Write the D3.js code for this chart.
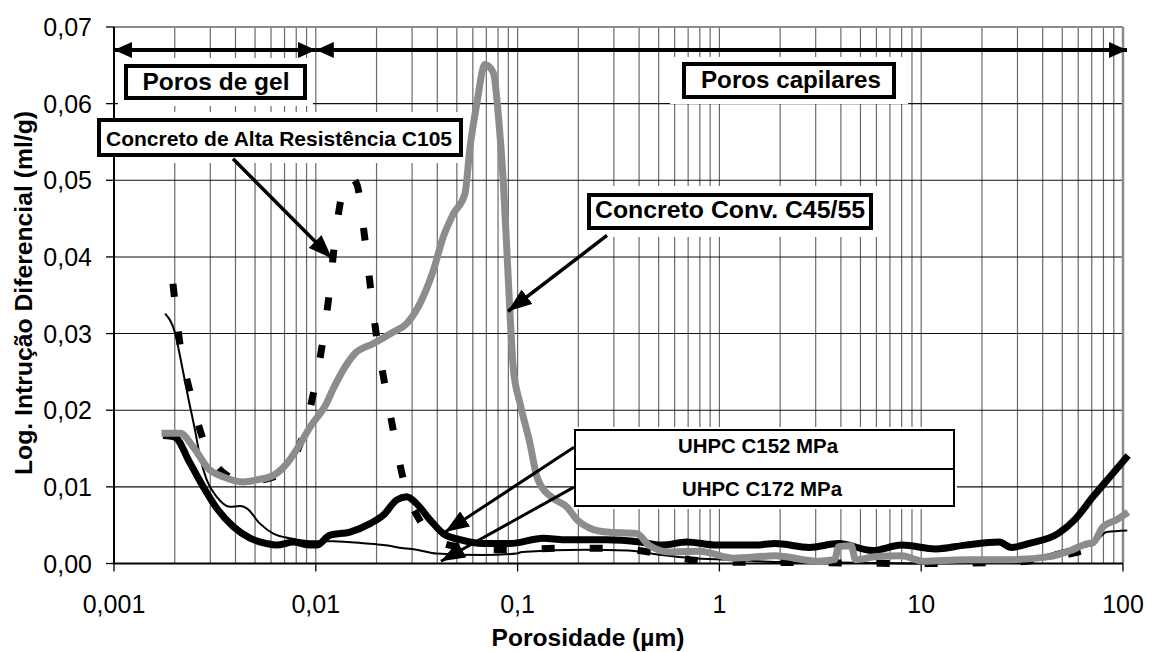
<!DOCTYPE html>
<html><head><meta charset="utf-8">
<script src="https://cdn.jsdelivr.net/npm/d3@7"></script>
<style>body{margin:0;background:#fff}svg{display:block}</style>
</head><body>
<svg id="chart" width="1149" height="652"></svg>
<script>
// ---------- DATA ----------
const xTickValues = [0.001, 0.01, 0.1, 1, 10, 100];
const xTickLabels = ["0,001", "0,01", "0,1", "1", "10", "100"];
const yTickValues = [0, 0.01, 0.02, 0.03, 0.04, 0.05, 0.06, 0.07];
const yTickLabels = ["0,00", "0,01", "0,02", "0,03", "0,04", "0,05", "0,06", "0,07"];

// Concreto Conv. C45/55 (grey)
const serieC4555 = [
  [0.00172,0.0170],[0.00213,0.0170],[0.00247,0.0152],[0.00293,0.0124],[0.00348,0.0113],
  [0.00437,0.01065],[0.0051,0.0109],[0.00616,0.0115],[0.00717,0.0130],[0.00819,0.0152],
  [0.00936,0.0178],[0.0113,0.0209],[0.0122,0.0228],[0.01564,0.0274],[0.0193,0.0287],
  [0.0242,0.0302],[0.0282,0.0313],[0.0328,0.0339],[0.0382,0.0382],[0.0428,0.0426],
  [0.048,0.0456],[0.0548,0.0482],[0.0581,0.0543],[0.0627,0.0599],[0.0689,0.0651],
  [0.0759,0.0640],[0.0802,0.0586],[0.0849,0.0499],[0.0883,0.0413],[0.0917,0.0326],
  [0.0952,0.0255],[0.1028,0.0209],[0.1151,0.0157],[0.1244,0.0114],[0.129,0.0104],
  [0.1503,0.0085],[0.175,0.0074],[0.197,0.0057],[0.2286,0.0046],[0.2763,0.0041],
  [0.39,0.0039],[0.447,0.0024],[0.569,0.0015],[0.796,0.0016],[1.17,0.0007],
  [1.89,0.0010],[3.07,0.0003],[3.72,0.0005],[3.9,0.0022],[4.5,0.0023],[4.73,0.0005],
  [6.0,0.0009],[8.0,0.0010],[10.2,0.0003],[16.5,0.0005],[26.7,0.0005],[43.3,0.0009],
  [55,0.0017],[66.8,0.0026],[71,0.0027],[79.6,0.0048],[93,0.0057],[106,0.0067]
];
// Concreto de Alta Resistência C105 (dashed)
const serieC105 = [
  [0.00196,0.0365],[0.00212,0.0287],[0.00238,0.0224],[0.00277,0.0161],[0.0035,0.0118],
  [0.0045,0.0107],[0.0065,0.0115],[0.0087,0.0170],[0.0099,0.0232],[0.0109,0.0295],
  [0.01175,0.0360],[0.01245,0.0423],[0.01359,0.0486],[0.0147,0.0505],[0.01596,0.0495],
  [0.01742,0.0428],[0.01857,0.0365],[0.01986,0.0302],[0.0218,0.0239],[0.0242,0.0174],
  [0.0272,0.0109],[0.0335,0.0052],[0.04,0.0030],[0.05,0.0022],[0.07,0.0018],
  [0.0952,0.0018],[0.1655,0.0020],[0.298,0.0020],[0.4,0.0017],[0.6,0.0008],[1,0.0002],
  [3,0.0001],[10,0.0000],[30,0.0002],[45,0.0008],[60,0.0015],[81.5,0.0024],[86,0.0025]
];
// UHPC C152 MPa (thick black)
const serieC152 = [
  [0.00175,0.0167],[0.0020,0.0165],[0.00238,0.0131],[0.00277,0.0100],[0.00323,0.0072],
  [0.0039,0.0048],[0.00472,0.0033],[0.00571,0.0026],[0.0064,0.0024],[0.00773,0.0028],
  [0.00936,0.0024],[0.0101,0.0024],[0.01175,0.0037],[0.01476,0.0041],[0.01857,0.0052],
  [0.0216,0.0063],[0.0252,0.0083],[0.0282,0.0087],[0.0316,0.0078],[0.0368,0.0057],
  [0.0428,0.0039],[0.0518,0.0031],[0.0676,0.0026],[0.0917,0.0026],[0.134,0.0033],
  [0.17,0.0031],[0.276,0.0031],[0.405,0.0028],[0.516,0.0024],[0.689,0.0028],
  [0.966,0.0024],[1.49,0.0024],[1.89,0.0026],[2.79,0.0021],[3.9,0.0026],[5.73,0.0017],
  [8.0,0.0024],[11.8,0.0019],[16.5,0.0024],[24.3,0.0028],[28,0.0021],[34,0.0026],
  [47.6,0.0039],[58,0.0058],[71,0.0087],[86,0.0113],[106,0.0141]
];
// UHPC C172 MPa (thin black)
const serieC172 = [
  [0.00179,0.0326],[0.0020,0.0302],[0.00216,0.0261],[0.00233,0.0217],[0.00252,0.0174],
  [0.00267,0.0139],[0.00288,0.0109],[0.00323,0.0087],[0.00376,0.0074],[0.00421,0.0075],
  [0.00455,0.0072],[0.00529,0.0052],[0.00616,0.0039],[0.00745,0.0033],[0.00936,0.0029],
  [0.0122,0.0029],[0.01786,0.0026],[0.0216,0.0024],[0.0272,0.0020],[0.0316,0.0018],
  [0.0397,0.0013],[0.0676,0.0011],[0.099,0.0013],[0.105,0.0015],[0.217,0.0018],
  [0.351,0.0017],[0.516,0.0011],[0.723,0.0007],[1.17,0.0005],[1.89,0.0002],[5,0.0001],
  [10,0.0000],[20,0.0001],[34,0.0005],[50,0.0017],[70,0.0024],[83,0.0041],[105,0.0043]
];

// ---------- LAYOUT ----------
const FONT = "'Liberation Sans', Arial, Helvetica, sans-serif";
const svg = d3.select("#chart");
const x = d3.scaleLog().domain([0.001, 100]).range([114, 1123]);
const y = d3.scaleLinear().domain([0, 0.07]).range([563.5, 27]);

// markers
const defs = svg.append("defs");
defs.append("marker").attr("id","headBig").attr("viewBox","0 0 18 16")
  .attr("refX",18).attr("refY",8).attr("markerWidth",18).attr("markerHeight",16)
  .attr("markerUnits","userSpaceOnUse").attr("orient","auto-start-reverse")
  .append("path").attr("d","M0,0 L18,8 L0,16 Z").attr("fill","#000");
defs.append("marker").attr("id","headDiag").attr("viewBox","0 0 24 18")
  .attr("refX",24).attr("refY",9).attr("markerWidth",24).attr("markerHeight",18)
  .attr("markerUnits","userSpaceOnUse").attr("orient","auto")
  .append("path").attr("d","M0,0 L24,9 L0,18 Z").attr("fill","#000");

// grid: vertical
const vLines = [];
for (let e = -3; e <= 1; e++) for (let k = 1; k <= 9; k++) {
  const v = k * Math.pow(10, e);
  if (v > 0.001) vLines.push(v);
}
svg.append("g").selectAll("line").data(vLines).join("line")
  .attr("x1", d => x(d)).attr("x2", d => x(d))
  .attr("y1", y(0.07)).attr("y2", y(0))
  .attr("stroke", "#6a6a6a").attr("stroke-width", 1.2);
// grid: horizontal
svg.append("g").selectAll("line").data(yTickValues.filter(v => v > 0 && v < 0.07)).join("line")
  .attr("x1", x(0.001)).attr("x2", x(100))
  .attr("y1", d => y(d)).attr("y2", d => y(d))
  .attr("stroke", "#111").attr("stroke-width", 1.1);
// plot frame top/right
svg.append("line").attr("x1", x(0.001)).attr("x2", x(100)).attr("y1", y(0.07)).attr("y2", y(0.07))
  .attr("stroke", "#8a8a8a").attr("stroke-width", 2);
svg.append("line").attr("x1", x(100)).attr("x2", x(100)).attr("y1", y(0.07)).attr("y2", y(0))
  .attr("stroke", "#8a8a8a").attr("stroke-width", 2.5);

// white backgrounds that cut the grid around the labels
const boxes = [
  {x0:124, y0:64, x1:307, y1:100, pad:[6,6], sw:4},
  {x0:682, y0:62, x1:896, y1:99, pad:[12,5], sw:4},
  {x0:97, y0:118, x1:463, y1:157, pad:[4,6], sw:4},
  {x0:587, y0:193, x1:873, y1:230, pad:[4,7], sw:4},
  {x0:574, y0:429, x1:955, y1:507, pad:[2,2], sw:2}
];
svg.append("g").selectAll("rect").data(boxes).join("rect")
  .attr("x", d => d.x0 - d.pad[0]).attr("y", d => d.y0 - d.pad[1])
  .attr("width", d => d.x1 - d.x0 + 2*d.pad[0]).attr("height", d => d.y1 - d.y0 + 2*d.pad[1])
  .attr("fill", "#fff");

// axes
svg.append("line").attr("x1", x(0.001)).attr("x2", x(0.001)).attr("y1", y(0.07)).attr("y2", y(0))
  .attr("stroke", "#000").attr("stroke-width", 2);
svg.append("line").attr("x1", x(0.001) - 1).attr("x2", x(100)).attr("y1", y(0)).attr("y2", y(0))
  .attr("stroke", "#000").attr("stroke-width", 2);
// y ticks + labels
const gy = svg.append("g");
gy.selectAll("line").data(yTickValues).join("line")
  .attr("x1", x(0.001) - 8).attr("x2", x(0.001)).attr("y1", d => y(d)).attr("y2", d => y(d))
  .attr("stroke", "#000").attr("stroke-width", 1.3);
gy.selectAll("text").data(yTickValues).join("text")
  .attr("x", 92).attr("y", d => y(d) + 9).attr("text-anchor", "end")
  .attr("font-family", FONT).attr("font-size", 25).attr("fill", "#000")
  .text((d, i) => yTickLabels[i]);
// x ticks + labels
const gx = svg.append("g");
gx.selectAll("line").data(xTickValues).join("line")
  .attr("x1", d => x(d)).attr("x2", d => x(d)).attr("y1", y(0)).attr("y2", y(0) + 8)
  .attr("stroke", "#000").attr("stroke-width", 1.3);
gx.selectAll("text").data(xTickValues).join("text")
  .attr("x", d => x(d)).attr("y", 613).attr("text-anchor", "middle")
  .attr("font-family", FONT).attr("font-size", 25).attr("fill", "#000")
  .text((d, i) => xTickLabels[i]);

// axis titles
svg.append("text").attr("x", 588).attr("y", 646).attr("text-anchor", "middle")
  .attr("font-family", FONT).attr("font-size", 24).attr("font-weight", "bold")
  .attr("textLength", 193).attr("lengthAdjust", "spacingAndGlyphs")
  .text("Porosidade (µm)");
svg.append("text").attr("transform", "translate(32,293) rotate(-90)").attr("text-anchor", "middle")
  .attr("font-family", FONT).attr("font-size", 24).attr("font-weight", "bold")
  .attr("textLength", 364).attr("lengthAdjust", "spacingAndGlyphs")
  .text("Log. Intrução Diferencial (ml/g)");

// data lines
const line = d3.line().x(d => x(d[0])).y(d => y(d[1])).curve(d3.curveMonotoneX);
const gLines = svg.append("g").attr("fill", "none");
gLines.append("path").datum(serieC152).attr("d", line)
  .attr("stroke", "#000").attr("stroke-width", 7).attr("stroke-linejoin", "round");
gLines.append("path").datum(serieC172).attr("d", line)
  .attr("stroke", "#000").attr("stroke-width", 2);
gLines.append("path").datum(serieC105).attr("d", line)
  .attr("stroke", "#000").attr("stroke-width", 7).attr("stroke-dasharray", "13,35");
gLines.append("path").datum(serieC4555).attr("d", line)
  .attr("stroke", "#8c8c8c").attr("stroke-width", 7).attr("stroke-linejoin", "round");

// top range arrows
svg.append("line").attr("x1", x(0.001)).attr("x2", x(0.01)).attr("y1", 50).attr("y2", 50)
  .attr("stroke", "#000").attr("stroke-width", 4)
  .attr("marker-start", "url(#headBig)").attr("marker-end", "url(#headBig)");
svg.append("line").attr("x1", x(0.01)).attr("x2", x(100) + 4).attr("y1", 50).attr("y2", 50)
  .attr("stroke", "#000").attr("stroke-width", 4)
  .attr("marker-start", "url(#headBig)").attr("marker-end", "url(#headBig)");

// annotation arrows (data-space anchors)
const pointers = [
  {from:[0.003888,0.0528], to:[0.01203,0.0398], w:3.5},
  {from:[0.2773,0.0428], to:[0.0896,0.0329], w:3.5},
  {from:[0.1903,0.01517], to:[0.0437,0.0041], w:3},
  {from:[0.1903,0.00996], to:[0.0417,0.0003], w:3}
];
svg.append("g").selectAll("line").data(pointers).join("line")
  .attr("x1", d => x(d.from[0])).attr("y1", d => y(d.from[1]))
  .attr("x2", d => x(d.to[0])).attr("y2", d => y(d.to[1]))
  .attr("stroke", "#000").attr("stroke-width", d => d.w)
  .attr("marker-end", "url(#headDiag)");

// label boxes
svg.append("g").selectAll("rect").data(boxes).join("rect")
  .attr("x", d => d.x0 + d.sw/2).attr("y", d => d.y0 + d.sw/2)
  .attr("width", d => d.x1 - d.x0 - d.sw).attr("height", d => d.y1 - d.y0 - d.sw)
  .attr("fill", "#fff").attr("stroke", "#000").attr("stroke-width", d => d.sw);
svg.append("line").attr("x1", 574).attr("x2", 955).attr("y1", 469).attr("y2", 469)
  .attr("stroke", "#000").attr("stroke-width", 2);

const labels = [
  {t:"Poros de gel", cx:216, by:90, fs:24, len:147},
  {t:"Poros capilares", cx:791, by:88, fs:24, len:180},
  {t:"Concreto de Alta Resistência C105", cx:279, by:146, fs:21, len:346},
  {t:"Concreto Conv. C45/55", cx:730, by:218, fs:24, len:270},
  {t:"UHPC C152 MPa", cx:758, by:453, fs:20, len:160},
  {t:"UHPC C172 MPa", cx:762, by:496, fs:20, len:160}
];
svg.append("g").selectAll("text").data(labels).join("text")
  .attr("x", d => d.cx).attr("y", d => d.by).attr("text-anchor", "middle")
  .attr("font-family", FONT).attr("font-weight", "bold").attr("font-size", d => d.fs)
  .attr("textLength", d => d.len).attr("lengthAdjust", "spacingAndGlyphs")
  .text(d => d.t);
</script>
</body></html>
